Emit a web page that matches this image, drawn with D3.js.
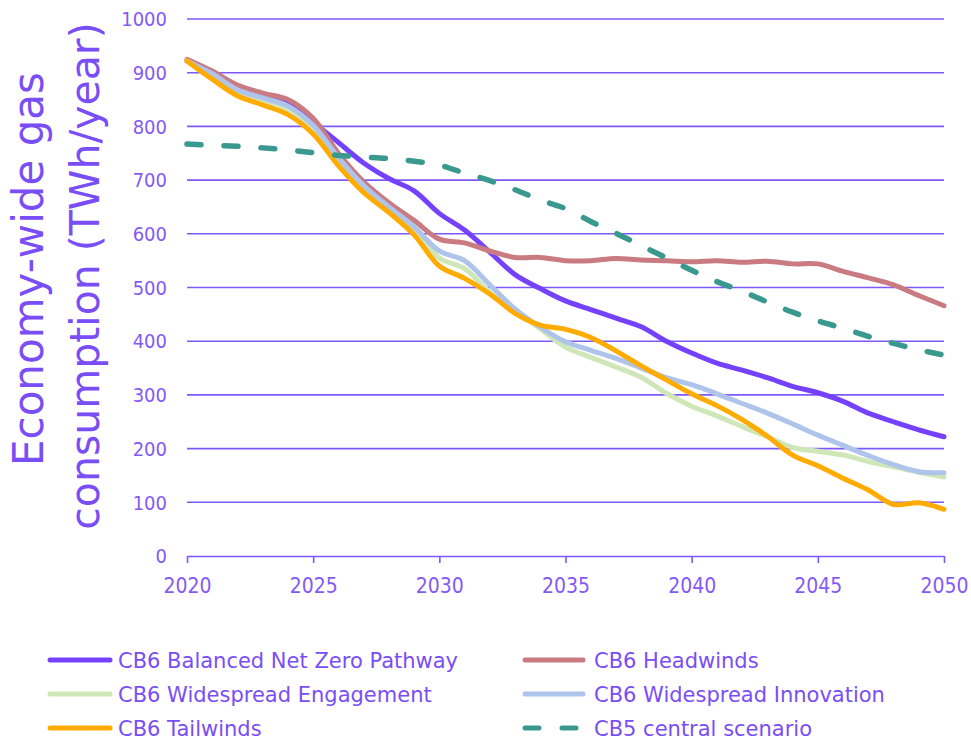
<!DOCTYPE html>
<html>
<head>
<meta charset="utf-8">
<script src="https://cdn.jsdelivr.net/npm/d3@7/dist/d3.min.js"></script>
<style>
  html, body { margin: 0; padding: 0; background: #ffffff; }
  svg { display: block; }
</style>
</head>
<body>
<svg id="chart" width="971" height="742"></svg>
<script>
// ---- Data ----
const years = [2020,2021,2022,2023,2024,2025,2026,2027,2028,2029,2030,2031,2032,2033,2034,2035,2036,2037,2038,2039,2040,2041,2042,2043,2044,2045,2046,2047,2048,2049,2050];

const balancedNetZero = [922,898,870,857,843,808,770,732,703,680,638,607,566,524,498,475,459,443,427,400,378,359,346,332,316,304,288,266,250,235,222];
const headwinds       = [925,903,877,862,850,815,750,697,658,625,590,583,568,556,556,550,550,554,551,550,548,550,547,549,544,544,530,518,505,485,466];
const engagement      = [922,894,864,849,832,795,735,684,645,607,555,535,491,458,423,389,370,352,333,303,279,261,241,222,202,195,188,176,166,156,147];
const innovation      = [922,898,868,853,838,802,742,690,650,613,568,550,505,460,426,399,383,368,350,332,319,302,284,266,246,225,206,187,170,157,155];
const tailwinds       = [922,888,857,840,822,786,727,677,640,598,540,517,488,452,430,422,407,382,354,328,302,280,254,223,188,168,145,123,96,99,87];
const cb5Central      = [767,765,763,760,756,751,746,743,740,735,728,713,699,682,663,647,623,601,578,555,532,511,493,473,454,438,424,409,396,384,374];

const yTicks = [0,100,200,300,400,500,600,700,800,900,1000];
const xTicks = [2020,2025,2030,2035,2040,2045,2050];

const seriesNames = ["CB6 Balanced Net Zero Pathway","CB6 Headwinds","CB6 Widespread Engagement","CB6 Widespread Innovation","CB6 Tailwinds","CB5 central scenario"];
const seriesValues = [balancedNetZero, headwinds, engagement, innovation, tailwinds, cb5Central];
const seriesColors = ["#7442fd","#c97b81","#cfe7b8","#aec4eb","#ffab00","#3a998e"];
const seriesDashed = [false,false,false,false,false,true];

const yTitleLines = ["Economy-wide gas","consumption (TWh/year)"];

// ---- Layout ----
const svg = d3.select("#chart");
const W = 971, H = 742;
const plot = {left: 187, right: 944, top: 19, bottom: 556};
const gridColor = "#7d58fa";
const tickTextColor = "#8459f6";
const titleColor = "#7a4ef6";
const font = "'DejaVu Sans', sans-serif";

svg.append("rect").attr("width", W).attr("height", H).attr("fill", "#ffffff");

const x = d3.scaleLinear().domain([2020, 2050]).range([plot.left, plot.right]);
const y = d3.scaleLinear().domain([0, 1000]).range([plot.bottom, plot.top]);

// Gridlines
svg.append("g").selectAll("line").data(yTicks.filter(d => d > 0)).join("line")
  .attr("x1", plot.left).attr("x2", plot.right)
  .attr("y1", d => y(d)).attr("y2", d => y(d))
  .attr("stroke", gridColor).attr("stroke-width", 1.6);

// Y tick labels
svg.append("g").selectAll("text").data(yTicks).join("text")
  .attr("x", 167).attr("y", d => y(d))
  .attr("dy", "0.36em")
  .attr("text-anchor", "end")
  .attr("font-family", font)
  .attr("font-stretch", "condensed")
  .attr("font-size", 20)
  .attr("fill", tickTextColor)
  .text(d => d);

// X axis
const xAxis = d3.axisBottom(x).tickValues(xTicks).tickSize(7).tickSizeOuter(0).tickFormat(d3.format("d"));
const gx = svg.append("g").attr("transform", `translate(0,${plot.bottom})`).call(xAxis);
gx.select(".domain").attr("stroke", gridColor).attr("stroke-width", 1.6);
gx.selectAll(".tick line").attr("stroke", gridColor).attr("stroke-width", 1.6);
gx.selectAll(".tick text")
  .attr("y", 0).attr("dy", null)
  .attr("transform", "translate(0,37)")
  .attr("font-family", font)
  .attr("font-stretch", "condensed")
  .attr("font-size", 21)
  .attr("fill", tickTextColor);

// Y title
const yTitle = svg.append("g");
yTitle.append("text")
  .attr("transform", "translate(43,269) rotate(-90)")
  .attr("text-anchor", "middle")
  .attr("font-family", font).attr("font-size", 42)
  .attr("fill", titleColor)
  .text(yTitleLines[0]);
yTitle.append("text")
  .attr("transform", "translate(99,276) rotate(-90)")
  .attr("text-anchor", "middle")
  .attr("font-family", font).attr("font-size", 41)
  .attr("fill", titleColor)
  .text(yTitleLines[1]);

// Lines
const line = d3.line()
  .x((d, i) => x(years[i]))
  .y(d => y(d))
  .curve(d3.curveCatmullRom.alpha(0.5));

const gLines = svg.append("g");
seriesValues.forEach((vals, k) => {
  const p = gLines.append("path")
    .datum(vals)
    .attr("d", line)
    .attr("fill", "none")
    .attr("stroke", seriesColors[k])
    .attr("stroke-width", seriesDashed[k] ? 5.5 : 5)
    .attr("stroke-linejoin", "round")
    .attr("stroke-linecap", "round");
  if (seriesDashed[k]) p.attr("stroke-dasharray", "14,23");
});

// Legend
const legendRows = [660, 694, 728];
const legendCols = [{lx1: 48, lx2: 112, tx: 118}, {lx1: 523, lx2: 585, tx: 594}];
const gLeg = svg.append("g");
seriesNames.forEach((name, k) => {
  const col = legendCols[k % 2];
  const ry = legendRows[Math.floor(k / 2)];
  const l = gLeg.append("line")
    .attr("x1", col.lx1 + 2).attr("x2", col.lx2 - 2)
    .attr("y1", ry).attr("y2", ry)
    .attr("stroke", seriesColors[k])
    .attr("stroke-width", 5)
    .attr("stroke-linecap", "round");
  if (seriesDashed[k]) l.attr("stroke-dasharray", "14,23");
  gLeg.append("text")
    .attr("x", col.tx).attr("y", ry)
    .attr("dy", "0.36em")
    .attr("font-family", font)
    .attr("font-size", 21)
    .attr("fill", titleColor)
    .text(name);
});
</script>
</body>
</html>
